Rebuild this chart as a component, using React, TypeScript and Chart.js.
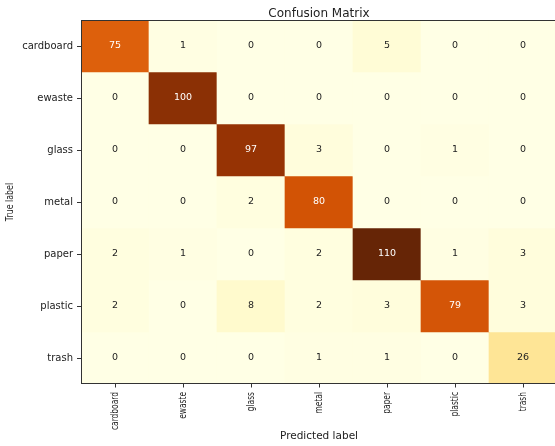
import React, { useEffect, useRef } from "react";
import { Chart, registerables } from "chart.js";

Chart.register(...registerables);

// ---- data ----
const classLabels = ["cardboard", "ewaste", "glass", "metal", "paper", "plastic", "trash"];
const cardboardRow = [75, 1, 0, 0, 5, 0, 0];
const ewasteRow = [0, 100, 0, 0, 0, 0, 0];
const glassRow = [0, 0, 97, 3, 0, 1, 0];
const metalRow = [0, 0, 2, 80, 0, 0, 0];
const paperRow = [2, 1, 0, 2, 110, 1, 3];
const plasticRow = [2, 0, 8, 2, 3, 79, 3];
const trashRow = [0, 0, 0, 1, 1, 0, 26];
const matrixRows = [cardboardRow, ewasteRow, glassRow, metalRow, paperRow, plasticRow, trashRow];
const titleText = "Confusion Matrix";
const xTitle = "Predicted label";
const yTitle = "True label";

// ---- style ----
const YLORBR = ["#ffffe5", "#fff7bc", "#fee391", "#fec44f", "#fe9929", "#ec7014", "#cc4c02", "#993404", "#662506"];
const FONT = "'DejaVu Sans', sans-serif";
const ROT_SQUASH = 0.75;
const W = 560;
const H = 446;

function hexToRgb(h: string) {
  return [parseInt(h.slice(1, 3), 16), parseInt(h.slice(3, 5), 16), parseInt(h.slice(5, 7), 16)];
}
function ylorbr(t: number) {
  const c = Math.max(0, Math.min(1, t)) * (YLORBR.length - 1);
  const i = Math.min(YLORBR.length - 2, Math.floor(c));
  const f = c - i;
  const a = hexToRgb(YLORBR[i]);
  const b = hexToRgb(YLORBR[i + 1]);
  const m = a.map((v, k) => Math.round(v + (b[k] - v) * f));
  return `rgb(${m[0]},${m[1]},${m[2]})`;
}

export default function App() {
  const ref = useRef<HTMLCanvasElement>(null);
  useEffect(() => {
    if (!ref.current) return;
    const vmax = Math.max(...matrixRows.flat());
    const datasets = matrixRows.map((row, i) => ({
      label: classLabels[i],
      data: row.map(() => [i, i + 1]),
      backgroundColor: row.map((v) => ylorbr(v / vmax)),
      borderWidth: 0,
      grouped: false,
      barPercentage: 1,
      categoryPercentage: 1,
    }));
    const overlay = {
      id: "overlay",
      afterDatasetsDraw(chart: any) {
        const { ctx, chartArea: a, scales } = chart;
        ctx.save();
        // cell values
        ctx.font = `9.5px ${FONT}`;
        ctx.textAlign = "center";
        ctx.textBaseline = "middle";
        matrixRows.forEach((row, i) =>
          row.forEach((v, j) => {
            ctx.fillStyle = v > vmax / 2 ? "#ffffff" : "#222222";
            ctx.fillText(String(v), scales.x.getPixelForValue(j), scales.y.getPixelForValue(i + 0.5));
          })
        );
        // frame
        ctx.strokeStyle = "#333";
        ctx.lineWidth = 1;
        ctx.strokeRect(a.left + 0.5, a.top + 0.5, a.right - a.left - 1, a.bottom - a.top - 1);
        // title
        ctx.fillStyle = "#222";
        ctx.font = `12px ${FONT}`;
        ctx.textBaseline = "alphabetic";
        ctx.fillText(titleText, (a.left + a.right) / 2, 17);
        // rotated x tick labels (condensed along their length)
        ctx.font = `10px ${FONT}`;
        ctx.textAlign = "right";
        ctx.textBaseline = "middle";
        classLabels.forEach((lab, j) => {
          ctx.save();
          ctx.translate(scales.x.getPixelForValue(j), a.bottom + 8);
          ctx.rotate(-Math.PI / 2);
          ctx.scale(ROT_SQUASH, 1);
          ctx.fillText(lab, 0, 0);
          ctx.restore();
        });
        // rotated y title
        ctx.font = `10.5px ${FONT}`;
        ctx.textAlign = "center";
        ctx.save();
        ctx.translate(10.5, (a.top + a.bottom) / 2);
        ctx.rotate(-Math.PI / 2);
        ctx.scale(ROT_SQUASH, 1);
        ctx.fillText(yTitle, 0, 0);
        ctx.restore();
        ctx.restore();
      },
    };
    const chart = new Chart(ref.current, {
      type: "bar",
      data: { labels: classLabels, datasets: datasets as any },
      options: {
        animation: false,
        responsive: false,
        devicePixelRatio: 1,
        layout: { padding: { top: 20, right: 3, left: 0, bottom: 0 } },
        plugins: { legend: { display: false }, tooltip: { enabled: false }, title: { display: false } },
        scales: {
          x: {
            type: "category",
            offset: true,
            grid: { offset: false, drawOnChartArea: false, drawTicks: true, tickLength: 3.5, color: "#333" },
            border: { display: false },
            ticks: { display: false, autoSkip: false },
            title: { display: true, text: xTitle, color: "#222", font: { family: FONT, size: 10.5 }, padding: { top: 0, bottom: 3 } },
            afterFit(s: any) {
              s.height = 62;
            },
          },
          y: {
            type: "linear",
            min: 0,
            max: 7,
            reverse: true,
            afterBuildTicks(s: any) {
              s.ticks = classLabels.map((_, i) => ({ value: i + 0.5 }));
            },
            grid: { drawOnChartArea: false, drawTicks: true, tickLength: 4, color: "#333" },
            border: { display: false },
            ticks: {
              autoSkip: false,
              padding: 4,
              color: "#222",
              font: { family: FONT, size: 10 },
              callback: (v: any) => classLabels[Math.floor(Number(v))],
            },
            title: { display: false },
            afterFit(s: any) {
              s.width = 81;
            },
          },
        },
      },
      plugins: [overlay],
    });
    return () => chart.destroy();
  }, []);

  return (
    <div style={{ position: "fixed", left: 0, top: 0, width: 555, height: 446, overflow: "hidden", background: "#fff" }}>
      <canvas ref={ref} width={W} height={H} style={{ display: "block" }} />
    </div>
  );
}
